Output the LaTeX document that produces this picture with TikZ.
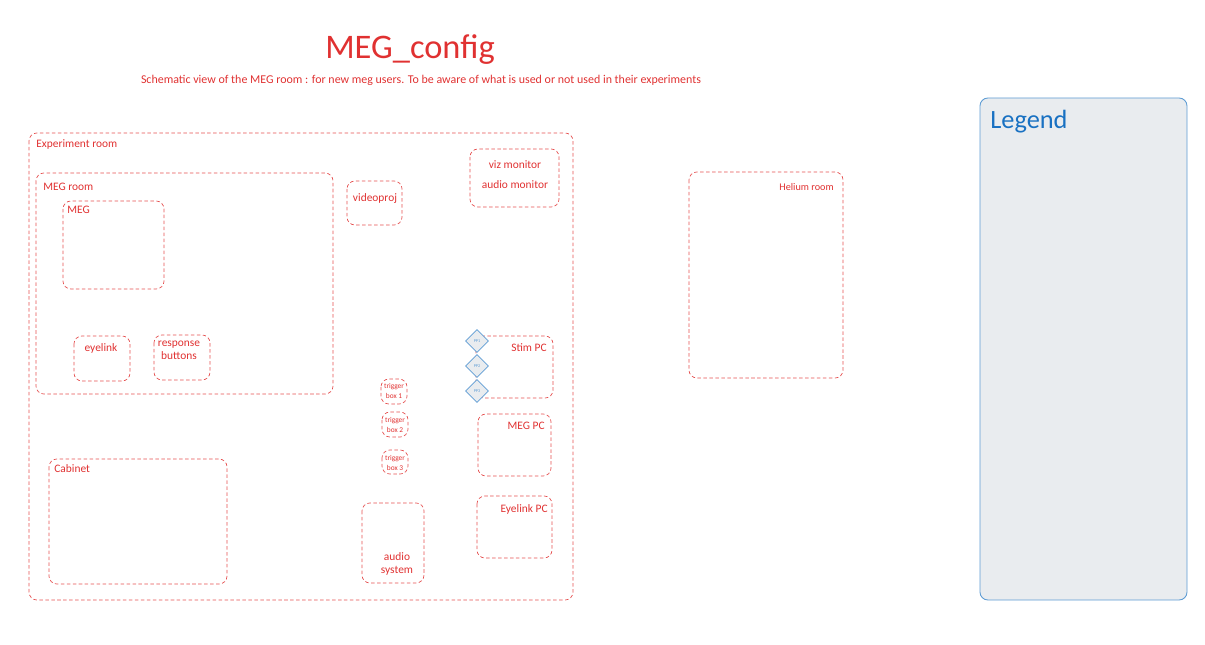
\documentclass[tikz,border=0pt]{standalone}
\usepackage{fontspec}
\setmainfont{Carlito}
\usetikzlibrary{shapes.geometric}
\definecolor{sketchred}{HTML}{E03131}
\definecolor{sketchblue}{HTML}{1971C2}
\definecolor{legendfill}{HTML}{E9ECEF}
\tikzset{
  room/.style={draw=sketchred, dash pattern=on 2pt off 1.4pt, line width=0.4pt, rounded corners=4.5pt, opacity=0.85},
  label/.style={text=sketchred, inner sep=0pt, align=center, font=\fontsize{6.5}{7.4}\selectfont},
  tinylabel/.style={label, font=\fontsize{4.2}{5.2}\selectfont},
  port/.style={shape=diamond, draw=sketchblue!70, fill=legendfill, line width=0.4pt, inner sep=0pt, minimum size=13pt, text=sketchblue!70, font=\fontsize{2.4}{3}\selectfont}
}

\begin{document}
\begin{tikzpicture}[x=0.02cm,y=-0.02cm]

  % Page
  \useasboundingbox (0,0) rectangle (1205,645);

  % Title
  \node[label, font=\fontsize{19.6}{21}\selectfont] (title) at (410,50) {MEG\_config};
  \node[label, font=\fontsize{6.8}{8}\selectfont] (subtitle) at (421,80) {Schematic view of the MEG room : for new meg users. To be aware of what is used or not used in their experiments};

  % Experiment room
  \draw[room] (29,133) rectangle (573,600);
  \node[label, anchor=west] (expname) at (36,144) {Experiment room};

  % MEG room
  \draw[room] (36,173) rectangle (333,394);
  \node[label, anchor=west] (megroomname) at (43,187) {MEG room};
  \draw[room] (63,201) rectangle (164,289);
  \node[label, anchor=west] (megname) at (67,210) {MEG};
  \draw[room] (74,336) rectangle (130,381);
  \node[label] (eyelinkname) at (101,348) {eyelink};
  \draw[room] (154,335) rectangle (210,380);
  \node[label] (buttonsname) at (179,350) {response\\buttons};

  % Projector and monitors
  \draw[room] (347,181) rectangle (402,225);
  \node[label] (videoprojname) at (375,199) {videoproj};
  \draw[room] (470,149) rectangle (559,207);
  \node[label] (vizname) at (515,165) {viz monitor};
  \node[label] (audioname) at (515,185) {audio monitor};

  % Stim PC
  \draw[room] (476,336) rectangle (553,398);
  \node[label, anchor=east] (stimname) at (547,348) {Stim PC};
  \node[port] (pp1) at (477,341) {PP1};
  \node[port] (pp2) at (477,366) {PP2};
  \node[port] (pp3) at (477,391) {PP3};

  % Trigger boxes
  \draw[room] (381,379) rectangle (407,404);
  \node[tinylabel] (trigone) at (394,391) {trigger\\box 1};
  \draw[room] (382,412) rectangle (408,437);
  \node[tinylabel] (trigtwo) at (395,425) {trigger\\box 2};
  \draw[room] (382,450) rectangle (408,474);
  \node[tinylabel] (trigthree) at (395,463) {trigger\\box 3};

  % Other PCs
  \draw[room] (478,414) rectangle (551,476);
  \node[label, anchor=east] (megpcname) at (545,426) {MEG PC};
  \draw[room] (477,496) rectangle (552,558);
  \node[label, anchor=east] (eyepcname) at (548,509) {Eyelink PC};

  % Cabinet and audio
  \draw[room] (49,459) rectangle (227,584);
  \node[label, anchor=west] (cabinetname) at (54,469) {Cabinet};
  \draw[room] (362,503) rectangle (424,583);
  \node[label] (audiosysname) at (397,564) {audio\\system};

  % Helium room
  \draw[room] (689,172) rectangle (843,378);
  \node[label, anchor=east, font=\fontsize{5.8}{7}\selectfont] (heliumname) at (834,187) {Helium room};

  % Legend
  \draw[draw=sketchblue!70, fill=legendfill, line width=0.5pt, rounded corners=4.5pt] (980,98) rectangle (1187,600);
  \node[label, text=sketchblue, anchor=west, font=\fontsize{15}{17}\selectfont] (legendname) at (990,122) {Legend};

\end{tikzpicture}
\end{document}
